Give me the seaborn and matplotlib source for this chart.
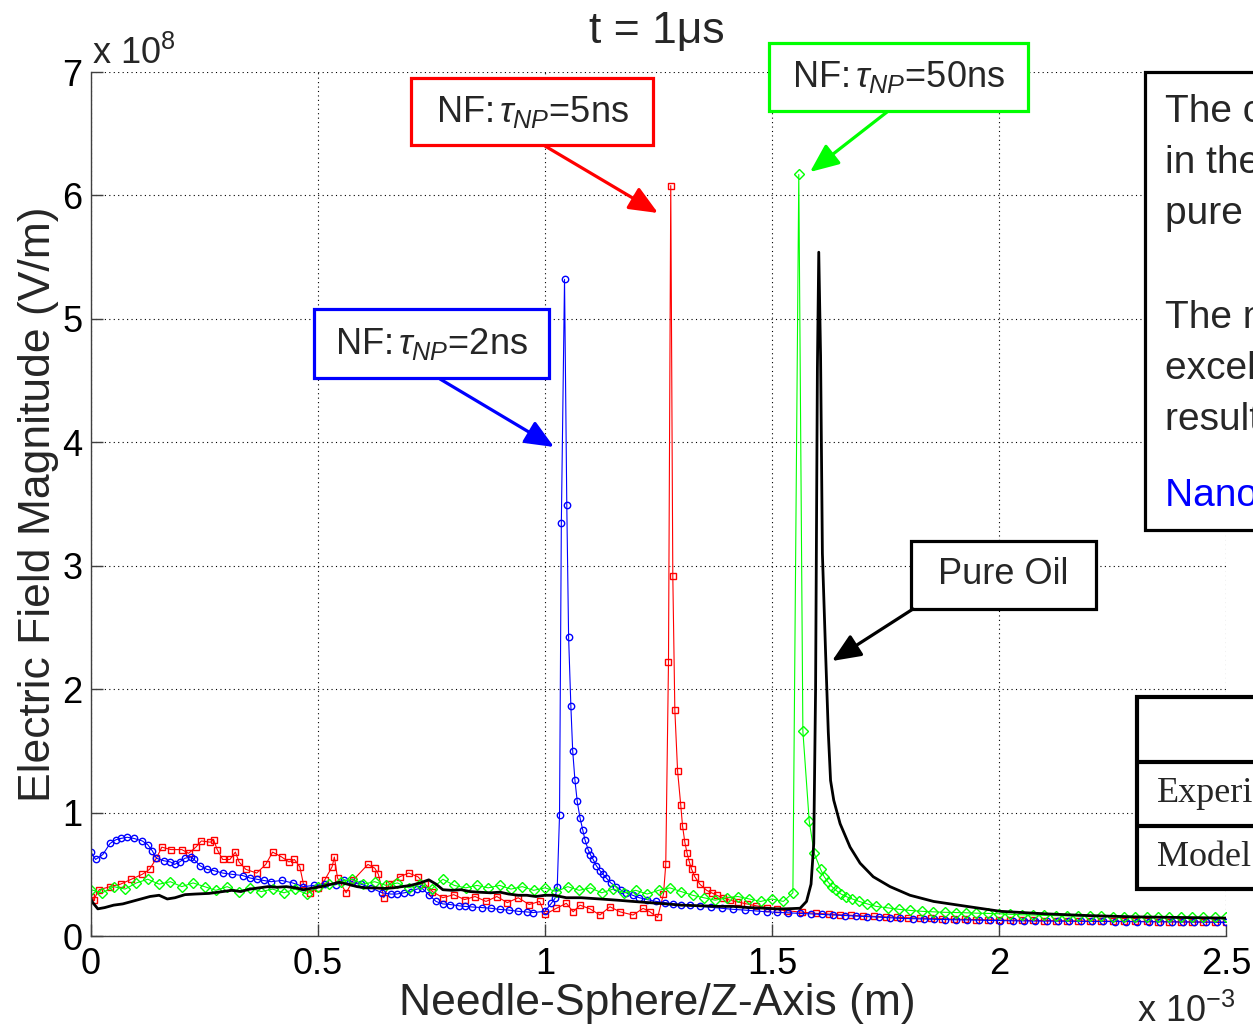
import numpy as np
import matplotlib
matplotlib.use("Agg")
import matplotlib.pyplot as plt
from matplotlib.patches import Rectangle
from matplotlib.ticker import FuncFormatter
import seaborn as sns

# ---------------------------------------------------------------
# Field magnitude along the needle-sphere axis at t = 1 us
# x in units of 1e-3 m, E in units of 1e8 V/m
# ---------------------------------------------------------------
nf2_x = [0.000, 0.010, 0.026, 0.042, 0.055, 0.065, 0.080, 0.095, 0.113, 0.125,
         0.135, 0.144, 0.160, 0.175, 0.184, 0.195, 0.207, 0.220, 0.227, 0.240,
         0.255, 0.270, 0.290, 0.310, 0.334, 0.350, 0.365, 0.380, 0.397, 0.420,
         0.444, 0.468, 0.491, 0.515, 0.539, 0.558, 0.575, 0.595, 0.617, 0.641,
         0.660, 0.673, 0.690, 0.704, 0.718, 0.728, 0.744, 0.760, 0.775, 0.791,
         0.810, 0.823, 0.840, 0.862, 0.880, 0.901, 0.920, 0.941, 0.960, 0.974,
         1.000, 1.014, 1.022, 1.027, 1.032, 1.036, 1.043, 1.048, 1.052, 1.057,
         1.061, 1.066, 1.071, 1.077, 1.083, 1.088, 1.095, 1.100, 1.106, 1.113,
         1.121, 1.128, 1.135, 1.145, 1.157, 1.168, 1.179, 1.193, 1.208, 1.225,
         1.245, 1.265, 1.282, 1.300, 1.320, 1.341, 1.365, 1.390, 1.414, 1.440,
         1.465, 1.488, 1.510, 1.535, 1.562, 1.585, 1.610, 1.635, 1.660, 1.685,
         1.709, 1.735, 1.760, 1.782, 1.810, 1.835, 1.856, 1.880, 1.905, 1.929,
         1.955, 1.980, 2.003, 2.030, 2.055, 2.080, 2.105, 2.130, 2.155, 2.180,
         2.205, 2.230, 2.255, 2.280, 2.305, 2.330, 2.355, 2.380, 2.405, 2.430,
         2.455, 2.480, 2.500]
nf2_e = [0.68, 0.62, 0.66, 0.75, 0.78, 0.79, 0.80, 0.79, 0.77, 0.74,
         0.69, 0.63, 0.61, 0.60, 0.58, 0.60, 0.63, 0.64, 0.62, 0.57,
         0.54, 0.53, 0.51, 0.50, 0.49, 0.47, 0.46, 0.45, 0.44, 0.45,
         0.43, 0.40, 0.41, 0.42, 0.415, 0.455, 0.44, 0.42, 0.39, 0.35,
         0.34, 0.34, 0.35, 0.36, 0.38, 0.39, 0.335, 0.28, 0.26, 0.255,
         0.245, 0.24, 0.235, 0.23, 0.225, 0.215, 0.21, 0.20, 0.195, 0.19,
         0.20, 0.265, 0.305, 0.40, 0.98, 3.35, 5.32, 3.49, 2.42, 1.86,
         1.50, 1.26, 1.09, 0.96, 0.86, 0.78, 0.70, 0.66, 0.62, 0.57,
         0.53, 0.50, 0.47, 0.43, 0.40, 0.37, 0.35, 0.33, 0.31, 0.295,
         0.28, 0.27, 0.26, 0.255, 0.248, 0.24, 0.232, 0.224, 0.216, 0.21,
         0.203, 0.196, 0.192, 0.187, 0.183, 0.179, 0.175, 0.17, 0.166, 0.161,
         0.157, 0.153, 0.148, 0.143, 0.140, 0.137, 0.135, 0.133, 0.131, 0.13,
         0.128, 0.126, 0.124, 0.123, 0.122, 0.121, 0.121, 0.120, 0.120, 0.119,
         0.118, 0.118, 0.117, 0.117, 0.116, 0.115, 0.115, 0.114, 0.113, 0.113,
         0.112, 0.111, 0.110]

nf5_x = [0.000, 0.006, 0.018, 0.042, 0.065, 0.089, 0.113, 0.129, 0.144, 0.156,
         0.176, 0.200, 0.215, 0.231, 0.243, 0.263, 0.270, 0.278, 0.290, 0.306,
         0.318, 0.326, 0.341, 0.365, 0.385, 0.400, 0.420, 0.436, 0.448, 0.460,
         0.468, 0.483, 0.499, 0.515, 0.531, 0.536, 0.543, 0.562, 0.578, 0.610,
         0.625, 0.633, 0.645, 0.657, 0.680, 0.700, 0.720, 0.736, 0.752, 0.775,
         0.799, 0.823, 0.846, 0.870, 0.894, 0.917, 0.941, 0.965, 0.988, 1.000,
         1.025, 1.047, 1.062, 1.077, 1.099, 1.121, 1.143, 1.165, 1.194, 1.216,
         1.231, 1.248, 1.261, 1.266, 1.272, 1.277, 1.2815, 1.286, 1.292, 1.299,
         1.303, 1.308, 1.313, 1.318, 1.323, 1.330, 1.341, 1.356, 1.367, 1.378,
         1.392, 1.407, 1.425, 1.444, 1.465, 1.488, 1.510, 1.532, 1.565, 1.598,
         1.625, 1.650, 1.675, 1.700, 1.725, 1.750, 1.775, 1.800, 1.825, 1.850,
         1.875, 1.900, 1.925, 1.950, 1.975, 2.000, 2.025, 2.050, 2.075, 2.100,
         2.125, 2.150, 2.175, 2.200, 2.225, 2.250, 2.275, 2.300, 2.325, 2.350,
         2.375, 2.400, 2.425, 2.450, 2.475, 2.500]
nf5_e = [0.32, 0.295, 0.375, 0.40, 0.42, 0.46, 0.50, 0.54, 0.63, 0.72,
         0.70, 0.70, 0.67, 0.72, 0.77, 0.76, 0.78, 0.70, 0.62, 0.62,
         0.68, 0.60, 0.54, 0.51, 0.58, 0.68, 0.64, 0.60, 0.62, 0.56,
         0.42, 0.35, 0.39, 0.455, 0.56, 0.64, 0.47, 0.35, 0.455, 0.58,
         0.55, 0.50, 0.31, 0.42, 0.48, 0.51, 0.48, 0.42, 0.36, 0.31,
         0.335, 0.295, 0.32, 0.28, 0.32, 0.27, 0.31, 0.255, 0.28, 0.175,
         0.224, 0.265, 0.196, 0.25, 0.22, 0.17, 0.237, 0.196, 0.17, 0.224,
         0.196, 0.15, 0.34, 0.58, 2.22, 6.08, 2.92, 1.83, 1.34, 1.06,
         0.89, 0.76, 0.67, 0.60, 0.54, 0.48, 0.42, 0.37, 0.35, 0.33,
         0.31, 0.29, 0.275, 0.26, 0.245, 0.23, 0.215, 0.205, 0.193, 0.183,
         0.178, 0.172, 0.168, 0.163, 0.159, 0.155, 0.151, 0.148, 0.145, 0.142,
         0.14, 0.137, 0.135, 0.133, 0.131, 0.13, 0.128, 0.127, 0.126, 0.125,
         0.124, 0.123, 0.122, 0.121, 0.121, 0.12, 0.119, 0.118, 0.118, 0.117,
         0.116, 0.115, 0.115, 0.114, 0.113, 0.112]

nf50_x = [0.000, 0.025, 0.050, 0.075, 0.100, 0.125, 0.150, 0.175, 0.200, 0.225,
          0.250, 0.275, 0.300, 0.325, 0.350, 0.375, 0.400, 0.425, 0.450, 0.475,
          0.500, 0.525, 0.550, 0.575, 0.600, 0.625, 0.650, 0.675, 0.700, 0.725,
          0.750, 0.775, 0.800, 0.825, 0.850, 0.875, 0.900, 0.925, 0.950, 0.975,
          1.000, 1.025, 1.050, 1.075, 1.100, 1.125, 1.150, 1.175, 1.200, 1.225,
          1.250, 1.275, 1.300, 1.325, 1.350, 1.375, 1.400, 1.425, 1.450, 1.475,
          1.500, 1.525, 1.546, 1.559, 1.568, 1.582, 1.593, 1.607, 1.615, 1.623,
          1.632, 1.641, 1.652, 1.663, 1.677, 1.692, 1.710, 1.729, 1.755, 1.780,
          1.805, 1.830, 1.854, 1.880, 1.905, 1.927, 1.950, 1.975, 2.000, 2.025,
          2.050, 2.075, 2.100, 2.125, 2.150, 2.175, 2.200, 2.225, 2.250, 2.275,
          2.300, 2.325, 2.350, 2.375, 2.400, 2.425, 2.450, 2.475, 2.500]
nf50_e = [0.375, 0.35, 0.40, 0.38, 0.43, 0.46, 0.42, 0.44, 0.40, 0.43,
          0.40, 0.37, 0.40, 0.36, 0.39, 0.36, 0.38, 0.35, 0.38, 0.34,
          0.40, 0.42, 0.44, 0.46, 0.42, 0.44, 0.41, 0.43, 0.39, 0.42,
          0.38, 0.46, 0.41, 0.39, 0.41, 0.39, 0.41, 0.38, 0.40, 0.37,
          0.39, 0.36, 0.40, 0.37, 0.39, 0.35, 0.38, 0.35, 0.37, 0.34,
          0.37, 0.39, 0.36, 0.33, 0.31, 0.29, 0.31, 0.32, 0.30, 0.28,
          0.30, 0.28, 0.35, 6.17, 1.66, 0.93, 0.67, 0.54, 0.48, 0.44,
          0.40, 0.37, 0.34, 0.32, 0.30, 0.28, 0.26, 0.24, 0.228, 0.216,
          0.207, 0.20, 0.196, 0.192, 0.19, 0.188, 0.185, 0.183, 0.18, 0.176,
          0.172, 0.17, 0.167, 0.165, 0.163, 0.162, 0.16, 0.158, 0.157, 0.156,
          0.155, 0.154, 0.153, 0.152, 0.152, 0.151, 0.15, 0.15, 0.15]

oil_x = [0.000, 0.004, 0.015, 0.030, 0.050, 0.070, 0.090, 0.110, 0.130, 0.150,
         0.168, 0.185, 0.207, 0.230, 0.260, 0.290, 0.310, 0.330, 0.350, 0.370,
         0.390, 0.410, 0.430, 0.450, 0.468, 0.490, 0.507, 0.530, 0.547, 0.565,
         0.586, 0.605, 0.625, 0.645, 0.665, 0.685, 0.704, 0.725, 0.744, 0.760,
         0.775, 0.795, 0.815, 0.835, 0.854, 0.880, 0.901, 0.920, 0.941, 0.960,
         0.980, 1.000, 1.020, 1.047, 1.080, 1.121, 1.160, 1.194, 1.230, 1.267,
         1.300, 1.341, 1.380, 1.414, 1.450, 1.488, 1.510, 1.532, 1.562, 1.576,
         1.586, 1.592, 1.596, 1.600, 1.603, 1.607, 1.611, 1.618, 1.624, 1.629,
         1.636, 1.650, 1.672, 1.694, 1.723, 1.760, 1.804, 1.856, 1.929, 2.003,
         2.100, 2.200, 2.300, 2.400, 2.500]
oil_e = [0.30, 0.27, 0.22, 0.23, 0.25, 0.26, 0.28, 0.30, 0.32, 0.33,
         0.30, 0.31, 0.335, 0.34, 0.345, 0.36, 0.37, 0.36, 0.38, 0.39,
         0.40, 0.395, 0.40, 0.39, 0.375, 0.39, 0.40, 0.42, 0.435, 0.42,
         0.40, 0.39, 0.39, 0.385, 0.39, 0.40, 0.41, 0.43, 0.455, 0.42,
         0.375, 0.37, 0.375, 0.36, 0.355, 0.35, 0.355, 0.34, 0.33, 0.33,
         0.32, 0.33, 0.33, 0.31, 0.31, 0.30, 0.29, 0.28, 0.27, 0.26,
         0.25, 0.245, 0.24, 0.24, 0.23, 0.225, 0.22, 0.22, 0.225, 0.28,
         0.42, 0.75, 2.00, 4.60, 5.54, 4.70, 3.10, 2.30, 1.65, 1.26,
         1.10, 0.91, 0.72, 0.59, 0.48, 0.40, 0.33, 0.28, 0.24, 0.20,
         0.18, 0.165, 0.155, 0.15, 0.145]

x_ticks = [0, 0.5, 1, 1.5, 2, 2.5]
y_ticks = [0, 1, 2, 3, 4, 5, 6, 7]

BLUE, RED, GREEN, BLACK = "#0000ff", "#ff0000", "#00ff00", "#000000"

sns.set_style("white")
plt.rcParams["font.family"] = ["Liberation Sans", "DejaVu Sans"]
plt.rcParams["mathtext.fontset"] = "custom"
plt.rcParams["mathtext.rm"] = "Liberation Sans"
plt.rcParams["mathtext.it"] = "Liberation Sans:italic"
plt.rcParams["mathtext.bf"] = "Liberation Sans:bold"

W, H = 1253, 1028
fig = plt.figure(figsize=(W / 100, H / 100), dpi=100)
fig.patch.set_facecolor("white")
ax = fig.add_axes([91 / W, 1 - 936 / H, 1135 / W, 864 / H])

X_UNIT, E_UNIT = 1e-3, 1e8


def draw_series(xs, es, color, marker, msize, lw, zorder):
    x = np.asarray(xs) * X_UNIT
    e = np.asarray(es) * E_UNIT
    kws = dict(color=color, linewidth=lw, sort=False, estimator=None, ax=ax,
               zorder=zorder)
    if marker is not None:
        kws.update(marker=marker, markersize=msize, markerfacecolor="none",
                   markeredgecolor=color, markeredgewidth=1.0)
    sns.lineplot(x=x, y=e, **kws)


draw_series(nf5_x, nf5_e, RED, "s", 4.6, 0.8, 2.0)
draw_series(nf2_x, nf2_e, BLUE, "o", 4.6, 0.8, 2.1)
draw_series(nf50_x, nf50_e, GREEN, "D", 4.6, 0.8, 2.2)
draw_series(oil_x, oil_e, BLACK, None, 0, 2.0, 2.3)

ax.set_xlim(0, 2.5 * X_UNIT)
ax.set_ylim(0, 7 * E_UNIT)
ax.set_xticks(np.array(x_ticks) * X_UNIT)
ax.set_yticks(np.array(y_ticks) * E_UNIT)
ax.xaxis.set_major_formatter(FuncFormatter(lambda v, p: f"{v / X_UNIT:g}"))
ax.yaxis.set_major_formatter(FuncFormatter(lambda v, p: f"{v / E_UNIT:g}"))
ax.set_xlabel("")
ax.set_ylabel("")

ax.grid(True, color="black", linestyle=(0, (1, 3)), linewidth=0.8)
for side in ("top", "right"):
    ax.spines[side].set_visible(False)
for side in ("left", "bottom"):
    ax.spines[side].set_color("#404040")
    ax.spines[side].set_linewidth(1.0)
ax.tick_params(axis="both", direction="in", length=8.5, width=1.0,
               color="#404040", labelsize=26, labelcolor="black",
               bottom=True, left=True, top=False, right=False)
ax.tick_params(axis="x", pad=8)
ax.tick_params(axis="y", pad=6)

# axis titles and multipliers
fig.text(657 / W, 1 - 43 / H, "t = 1\u03bcs", ha="center", va="baseline",
         fontsize=32)
fig.text(657 / W, 1 - 1015 / H, "Needle-Sphere/Z-Axis (m)", ha="center",
         va="baseline", fontsize=32)
fig.text(50 / W, 1 - 504 / H, "Electric Field Magnitude (V/m)", ha="center",
         va="baseline", rotation=90, rotation_mode="anchor", fontsize=32)
fig.text(92 / W, 1 - 64 / H, r"x 10$^{8}$", ha="left", va="baseline",
         fontsize=26)
fig.text(1137 / W, 1 - 1022 / H, r"x 10$^{-3}$", ha="left", va="baseline",
         fontsize=26)


def callout(label, color, box, start, tip):
    (x0, y0), (x1, y1) = box
    ax.add_patch(Rectangle((x0, y0), x1 - x0, y1 - y0, transform=ax.transAxes,
                           facecolor="white", edgecolor=color, linewidth=2.3,
                           zorder=6, clip_on=False))
    ax.text((x0 + x1) / 2, (y0 + y1) / 2, label, transform=ax.transAxes,
            ha="center", va="center", fontsize=26, zorder=7)
    ax.annotate("", xy=tip, xytext=start, xycoords="axes fraction",
                textcoords="axes fraction", zorder=6,
                arrowprops=dict(arrowstyle="-|>,head_length=0.7,head_width=0.3",
                                mutation_scale=25, color=color, lw=2.3,
                                shrinkA=0, shrinkB=0))


def axfrac(px, py):
    return ((px - 91) / 1135, (936 - py) / 864)


callout(r"NF:$\,\tau_{NP}$=5ns", RED,
        (axfrac(411, 145), axfrac(653, 78)), axfrac(545, 146), axfrac(658, 213))
callout(r"NF:$\,\tau_{NP}$=2ns", BLUE,
        (axfrac(314, 378), axfrac(549, 309)), axfrac(440, 379), axfrac(554, 447))
callout(r"NF:$\,\tau_{NP}$=50ns", GREEN,
        (axfrac(769, 111), axfrac(1028, 43)), axfrac(887, 112), axfrac(810, 172))
callout("Pure Oil", BLACK,
        (axfrac(911, 609), axfrac(1096, 541)), axfrac(913, 609), axfrac(832, 661))

# side note panel
fig.add_artist(Rectangle((1145 / W, 1 - 530 / H), 300 / W, 458 / H,
                         transform=fig.transFigure, facecolor="white",
                         edgecolor="black", linewidth=2.3, zorder=10))
note_lines = ["The computed field peak", "in the nanofluids lags",
              "pure oil.", "", "The model shows",
              "excellent agreement with", "results from experiment."]
note_baselines = [122, 173, 224, 275, 328, 379, 430]
for txt, yb in zip(note_lines, note_baselines):
    fig.text(1165 / W, 1 - yb / H, txt, ha="left", va="baseline",
             fontsize=28, zorder=11)
fig.text(1165 / W, 1 - 506 / H, "Nanofluids delay streamers", ha="left",
         va="baseline", fontsize=28, color=BLUE, zorder=11)

# comparison table
table_rows = ["", "Experimental", "Model"]
row_edges = [697, 762, 826, 889]
fig.add_artist(Rectangle((1137 / W, 1 - 889 / H), 300 / W, 192 / H,
                         transform=fig.transFigure, facecolor="white",
                         edgecolor="black", linewidth=3.0, zorder=10))
for yb in row_edges[1:-1]:
    fig.add_artist(plt.Line2D([1137 / W, 1.1], [1 - yb / H, 1 - yb / H],
                              transform=fig.transFigure, color="black",
                              linewidth=3.0, zorder=11))
for txt, top, bot in zip(table_rows, row_edges[:-1], row_edges[1:]):
    if txt:
        fig.text(1157 / W, 1 - (top + bot) / 2 / H, txt, ha="left",
                 va="center", fontsize=26, family="Liberation Serif", zorder=11)

fig.savefig("out.png", dpi=100)
